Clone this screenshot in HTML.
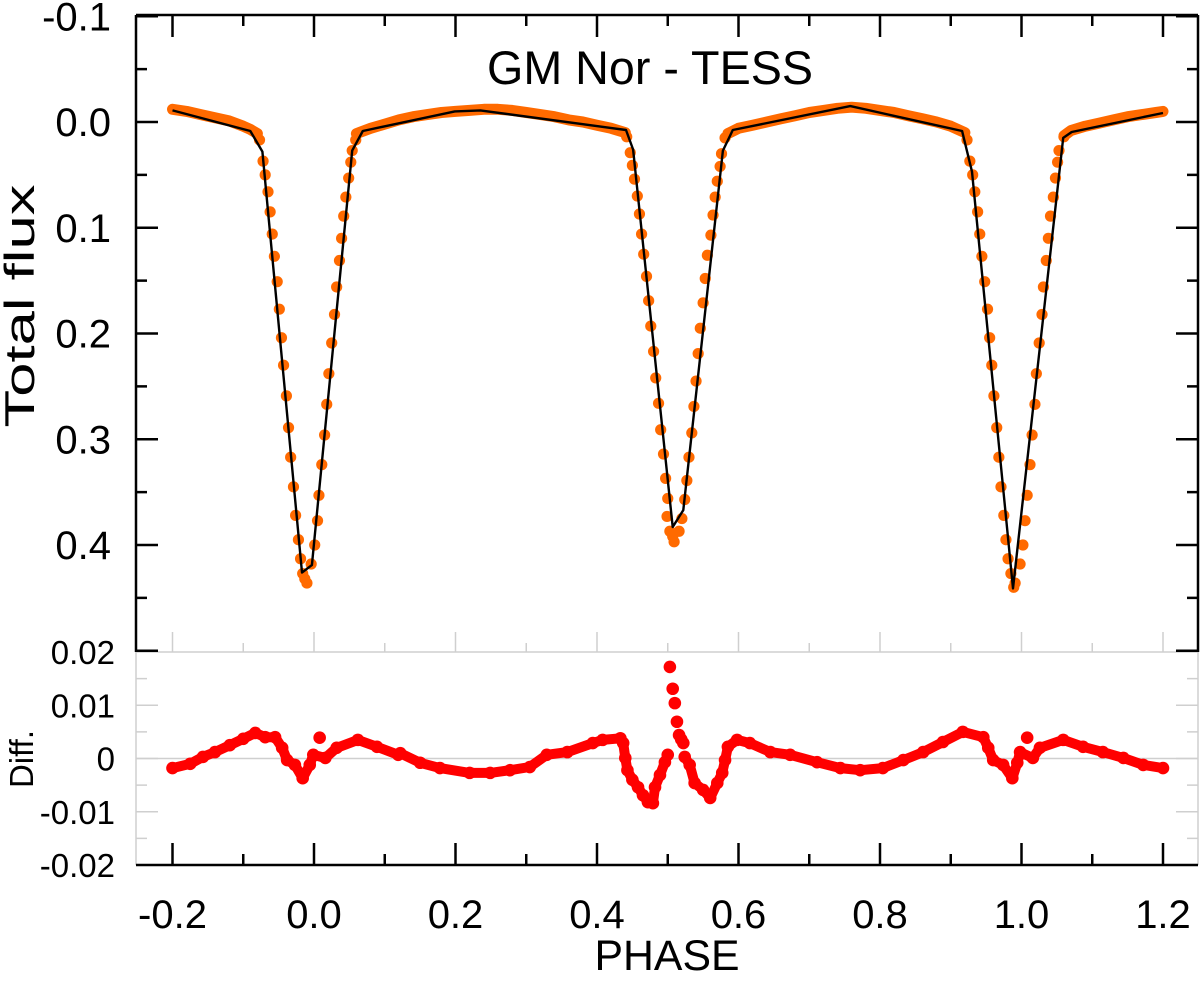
<!DOCTYPE html>
<html><head><meta charset="utf-8"><title>GM Nor - TESS</title>
<style>
html,body{margin:0;padding:0;background:#fff;}
svg{display:block;font-family:"Liberation Sans",Arial,sans-serif;}
</style></head>
<body>
<svg id="chart" width="1200" height="985" viewBox="0 0 1200 985" xmlns="http://www.w3.org/2000/svg">
<g id="frame"></g>
<g id="band"></g>
<g id="dots"></g>
<g id="model"></g>
<g id="resid"></g>
<g id="labels"></g>
<text x="650" y="84" text-anchor="middle" font-size="47" textLength="326" lengthAdjust="spacingAndGlyphs">GM Nor - TESS</text>
<text x="667" y="970" text-anchor="middle" font-size="43" textLength="145" lengthAdjust="spacingAndGlyphs">PHASE</text>
<text transform="translate(34,306) rotate(-90)" text-anchor="middle" font-size="42" textLength="243" lengthAdjust="spacingAndGlyphs">Total flux</text>
<text transform="translate(33,759) rotate(-90)" text-anchor="middle" font-size="33" textLength="58" lengthAdjust="spacingAndGlyphs">Diff.</text>
</svg>
<script>
// ---- data ----
const xTicks = [-0.2,0,0.2,0.4,0.6,0.8,1.0,1.2];
const xTickLabels = ["-0.2","0.0","0.2","0.4","0.6","0.8","1.0","1.2"];
const fluxTicks = [-0.1,0,0.1,0.2,0.3,0.4];
const fluxTickLabels = ["-0.1","0.0","0.1","0.2","0.3","0.4"];
const diffTicks = [0.02,0.01,0,-0.01,-0.02];
const diffTickLabels = ["0.02","0.01","0","-0.01","-0.02"];

const modelPhase = [-0.2,-0.09,-0.073,-0.017,-0.003,0.054,0.069,0.199,0.235,0.441,0.451,0.507,0.522,0.578,0.592,0.758,0.916,0.930,0.988,1.059,1.071,1.2];
const modelFlux  = [-0.011,0.0085,0.028,0.426,0.419,0.027,0.0085,-0.010,-0.011,0.0076,0.026,0.383,0.367,0.027,0.0076,-0.015,0.0085,0.047,0.441,0.015,0.0095,-0.0085];

const ooe1Phase = [-0.2,-0.18,-0.16,-0.14,-0.12,-0.10,-0.09,-0.08];
const ooe1Flux  = [-0.012,-0.010,-0.007,-0.004,-0.001,0.004,0.007,0.011];
const ooe2Phase = [0.06,0.08,0.10,0.12,0.14,0.16,0.18,0.20,0.22,0.24,0.26,0.28,0.30,0.32,0.34,0.36,0.38,0.40,0.42,0.44];
const ooe2Flux  = [0.011,0.006,0.002,-0.002,-0.005,-0.007,-0.009,-0.010,-0.011,-0.012,-0.012,-0.011,-0.009,-0.007,-0.005,-0.002,0.000,0.003,0.006,0.010];
const ooe3Phase = [0.585,0.60,0.62,0.64,0.66,0.68,0.70,0.72,0.74,0.76,0.78,0.80,0.82,0.84,0.86,0.88,0.90,0.92];
const ooe3Flux  = [0.011,0.006,0.003,0.000,-0.003,-0.006,-0.009,-0.011,-0.013,-0.014,-0.013,-0.011,-0.009,-0.006,-0.003,0.000,0.004,0.010];
const ooe4Phase = [1.06,1.07,1.09,1.11,1.13,1.15,1.17,1.19,1.20];
const ooe4Flux  = [0.013,0.008,0.004,0.001,-0.002,-0.005,-0.007,-0.009,-0.010];

const ecl1Phase = [-0.077,-0.072,-0.069,-0.065,-0.062,-0.059,-0.056,-0.052,-0.049,-0.046,-0.043,-0.039,-0.036,-0.033,-0.029,-0.026,-0.022,-0.019,-0.016,-0.010,-0.013,-0.004,0.001,0.005,0.007,0.011,0.015,0.018,0.021,0.025,0.029,0.032,0.036,0.039,0.042,0.045,0.049,0.052,0.054,0.059];
const ecl1Flux  = [0.017,0.037,0.050,0.066,0.085,0.106,0.127,0.151,0.177,0.204,0.230,0.259,0.289,0.317,0.345,0.372,0.395,0.413,0.427,0.436,0.432,0.418,0.400,0.377,0.353,0.324,0.296,0.267,0.238,0.209,0.182,0.156,0.131,0.110,0.089,0.071,0.053,0.038,0.027,0.017];
const ecl2Phase = [0.442,0.447,0.450,0.453,0.457,0.460,0.463,0.466,0.470,0.473,0.476,0.480,0.483,0.487,0.490,0.494,0.497,0.500,0.499,0.503,0.509,0.507,0.516,0.520,0.524,0.527,0.530,0.534,0.537,0.540,0.543,0.546,0.550,0.553,0.556,0.561,0.564,0.567,0.570,0.574,0.576,0.581];
const ecl2Flux  = [0.014,0.029,0.041,0.054,0.070,0.087,0.106,0.125,0.146,0.169,0.193,0.217,0.242,0.266,0.291,0.314,0.337,0.356,0.373,0.387,0.397,0.392,0.387,0.375,0.357,0.339,0.317,0.294,0.269,0.245,0.219,0.195,0.171,0.148,0.126,0.107,0.088,0.071,0.056,0.042,0.030,0.015];
const ecl3Phase = [0.923,0.927,0.931,0.934,0.938,0.941,0.944,0.948,0.952,0.955,0.958,0.961,0.965,0.968,0.971,0.975,0.978,0.981,0.985,0.991,0.989,0.998,1.002,1.005,1.008,1.012,1.015,1.019,1.021,1.025,1.029,1.031,1.035,1.038,1.041,1.045,1.048,1.051,1.053,1.060];
const ecl3Flux  = [0.017,0.037,0.050,0.066,0.085,0.106,0.127,0.151,0.177,0.204,0.230,0.259,0.289,0.317,0.345,0.372,0.395,0.413,0.427,0.436,0.440,0.418,0.400,0.377,0.353,0.324,0.296,0.267,0.238,0.209,0.182,0.156,0.131,0.110,0.089,0.071,0.053,0.038,0.027,0.014];

const resPhase = [-0.200,-0.175,-0.157,-0.140,-0.119,-0.100,-0.083,-0.069,-0.055,-0.045,-0.038,-0.027,-0.016,-0.006,-0.001,0.016,0.032,0.062,0.089,0.119,0.122,0.150,0.178,0.220,0.249,0.277,0.305,0.329,0.358,0.394,0.408,0.433,0.437,0.440,0.443,0.450,0.458,0.465,0.472,0.479,0.482,0.489,0.496,0.500];
const resDiff  = [-0.0018,-0.0010,0.0003,0.0012,0.0025,0.0037,0.0048,0.0040,0.0040,0.0020,-0.0003,-0.0012,-0.0037,-0.0012,0.0007,0.0001,0.0020,0.0035,0.0022,0.0007,0.0010,-0.0008,-0.0018,-0.0027,-0.0027,-0.0022,-0.0016,0.0007,0.0012,0.0029,0.0035,0.0038,0.0029,0.0001,-0.0022,-0.0040,-0.0054,-0.0069,-0.0082,-0.0084,-0.0054,-0.0031,-0.0007,0.0007];
const res2Phase = [0.524,0.531,0.538,0.550,0.560,0.570,0.577,0.581,0.585,0.598,0.616,0.645,0.673,0.711,0.744,0.772,0.804,0.833,0.861,0.889,0.917,0.946,0.953,0.960,0.974,0.987,0.994,0.998,1.016,1.026,1.059,1.087,1.115,1.144,1.172,1.200];
const res2Diff  = [0.0003,-0.0012,-0.0046,-0.0059,-0.0074,-0.0046,-0.0027,-0.0003,0.0022,0.0035,0.0029,0.0012,0.0007,-0.0007,-0.0018,-0.0022,-0.0018,-0.0003,0.0012,0.0031,0.0050,0.0040,0.0020,-0.0003,-0.0012,-0.0037,-0.0008,0.0012,0.0001,0.0020,0.0035,0.0022,0.0012,0.0001,-0.0012,-0.0018];
const spikePhase = [0.503,0.507,0.510,0.513,0.516,0.519,0.522];
const spikeDiff  = [0.0172,0.0131,0.0104,0.0069,0.0044,0.0036,0.0029];
const outPhase = [0.008,1.008];
const outDiff  = [0.0039,0.0039];

// ---- scales ----
const X0=136, X1=1198, YT=15, YSPLIT=652, YB=865;
function xs(p){return 314 + p*707.5;}
function yf(f){return 122 + f*1057.5;}
function yd(d){return 758.5 - d*5325;}

const NS="http://www.w3.org/2000/svg";
function mk(tag, attrs, parent){
  const e=document.createElementNS(NS,tag);
  for(const k in attrs) e.setAttribute(k, attrs[k]);
  parent.appendChild(e); return e;
}
const frame=document.getElementById('frame');
function line(x1,y1,x2,y2,col,w,name){
  const l=mk('line',{x1:x1,y1:y1,x2:x2,y2:y2,stroke:col,'stroke-width':w},frame);
  
  
  return l;
}
line(X0,YSPLIT,X1,YSPLIT,'#cfcfcf',1.5,'panel-separator');
line(X0,yd(0),X1,yd(0),'#cfcfcf',1.5,'zero-line');
line(X0,YT,X1,YT,'#000',2.5,'top-frame');
line(X0,YT,X0,YSPLIT,'#000',2.5,'top-left-axis');
line(X1,YT,X1,YSPLIT,'#000',2.5,'top-right-axis');
line(X0,YSPLIT,X0,YB,'#cfcfcf',1.5,'bottom-left-axis');
line(X1,YSPLIT,X1,YB,'#cfcfcf',1.5,'bottom-right-axis');
line(X0,YB,X1,YB,'#000',2.5,'x-axis');

for(let i=0;i<=14;i++){
  const p=-0.2+i*0.1, x=xs(p), major=(i%2===0);
  const L=major?22:11;
  line(x,YT,x,YT+L,'#000',2.5,'x-tick-top');
  line(x,YSPLIT,x,YSPLIT-L+2,'#cfcfcf',1.5,'x-tick-panel');
  line(x,YB,x,YB-L,'#000',2.5,'x-tick');
}
for(let i=0;i<=12;i++){
  const f=-0.1+i*0.05, y=yf(f), major=(i%2===0);
  const L=major?22:11;
  line(X0,y,X0+L,y,'#000',2.5,'flux-tick-left');
  line(X1,y,X1-L,y,'#000',2.5,'flux-tick-right');
}
for(let i=1;i<8;i++){
  const d=0.02-i*0.005, y=yd(d), major=(i%2===0);
  const L=major?22:11;
  line(X0,y,X0+L,y,'#cfcfcf',1.5,'diff-tick-left');
  line(X1,y,X1-L,y,'#cfcfcf',1.5,'diff-tick-right');
}

const labels=document.getElementById('labels');
xTicks.forEach((p,i)=>{
  const t=mk('text',{x:xs(p),y:928,'text-anchor':'middle','font-size':40},labels);
  t.textContent=xTickLabels[i];
  
  
});
fluxTicks.forEach((f,i)=>{
  const t=mk('text',{x:111,y:yf(f)+14,'text-anchor':'end','font-size':40},labels);
  t.textContent=fluxTickLabels[i];
  
  
});
diffTicks.forEach((d,i)=>{
  const t=mk('text',{x:115,y:yd(d)+12,'text-anchor':'end','font-size':33},labels);
  t.textContent=diffTickLabels[i];
  
  
});

const band=document.getElementById('band');
[[ooe1Phase,ooe1Flux],[ooe2Phase,ooe2Flux],[ooe3Phase,ooe3Flux],[ooe4Phase,ooe4Flux]].forEach(s=>{
  const pts=s[0].map((p,i)=>xs(p).toFixed(1)+','+yf(s[1][i]).toFixed(1)).join(' ');
  const pl=mk('polyline',{points:pts,fill:'none',stroke:'#ff6a00','stroke-width':11,'stroke-linecap':'round','stroke-linejoin':'round'},band);
  
  
});
const dots=document.getElementById('dots');
[[ecl1Phase,ecl1Flux],[ecl2Phase,ecl2Flux],[ecl3Phase,ecl3Flux]].forEach(s=>{
  s[0].forEach((p,i)=>{
    const c=mk('circle',{cx:xs(p),cy:yf(s[1][i]),r:5.6,fill:'#ff6a00'},dots);
    
    
  });
});
const model=document.getElementById('model');
const mp=modelPhase.map((p,i)=>xs(p).toFixed(1)+','+yf(modelFlux[i]).toFixed(1)).join(' ');
const ml=mk('polyline',{points:mp,fill:'none',stroke:'#000','stroke-width':2.4,'stroke-linejoin':'round'},model);



const resid=document.getElementById('resid');
[[resPhase,resDiff],[res2Phase,res2Diff]].forEach(s=>{
  const rp=s[0].map((p,i)=>xs(p).toFixed(1)+','+yd(s[1][i]).toFixed(1)).join(' ');
  const rl=mk('polyline',{points:rp,fill:'none',stroke:'#ff0000','stroke-width':10,'stroke-linecap':'round','stroke-linejoin':'round'},resid);
  
  
  s[0].forEach((p,i)=>{
    const c=mk('circle',{cx:xs(p),cy:yd(s[1][i]),r:6.3,fill:'#ff0000'},resid);
    
    
  });
});
spikePhase.forEach((p,i)=>{
  const c=mk('circle',{cx:xs(p),cy:yd(spikeDiff[i]),r:6.3,fill:'#ff0000'},resid);
  
  
});
outPhase.forEach((p,i)=>{
  const c=mk('circle',{cx:xs(p),cy:yd(outDiff[i]),r:6.3,fill:'#ff0000'},resid);
  
  
});
</script>
</body></html>
